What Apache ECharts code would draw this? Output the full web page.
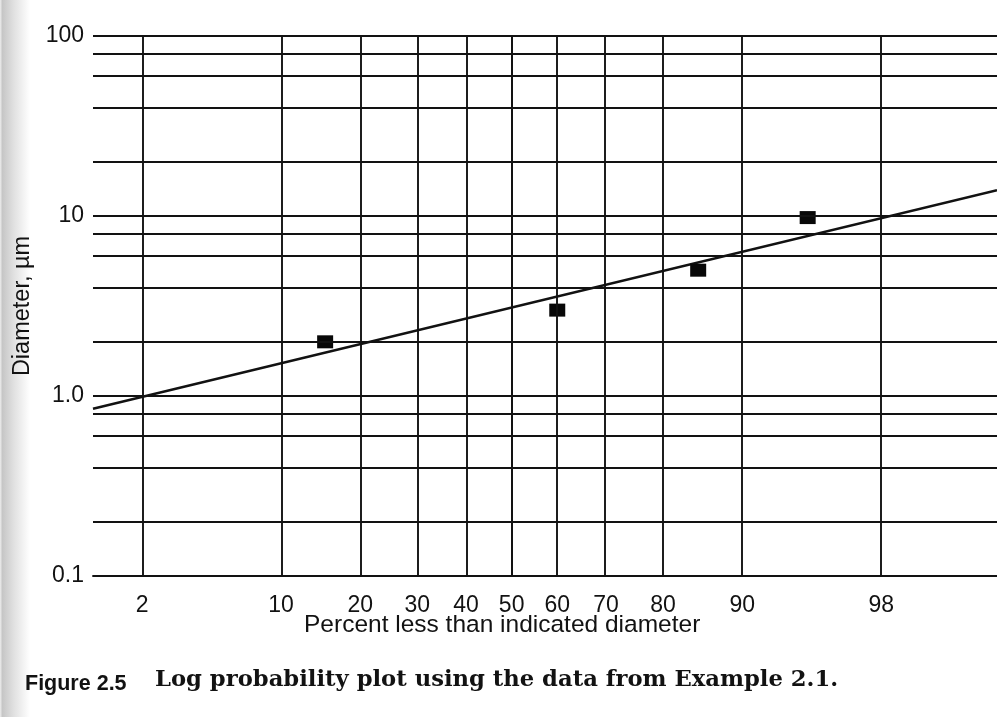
<!DOCTYPE html>
<html>
<head>
<meta charset="utf-8">
<script src="https://cdn.jsdelivr.net/npm/echarts@6/dist/echarts.min.js"></script>
<style>
html,body{margin:0;padding:0;background:#ffffff;}
#chart{width:997px;height:717px;}
</style>
</head>
<body>
<div id="chart"></div>
<script>
// ---- data ----
const xTickPercents = [2, 10, 20, 30, 40, 50, 60, 70, 80, 90, 98];
const xTickLabels = ['2', '10', '20', '30', '40', '50', '60', '70', '80', '90', '98'];
const yMajorTicks = [0.1, 1, 10, 100];
const yTickLabels = ['0.1', '1.0', '10', '100'];
const yMinorLines = [0.2, 0.4, 0.6, 0.8, 2, 4, 6, 8, 20, 40, 60, 80];
const pointPercent = [15, 60, 85, 95];
const pointDiameter = [2.0, 3.0, 5.0, 9.8];
const fitPercent = [1, 99.65];
const fitDiameter = [0.85, 13.9];
const xRangePercent = [1, 99.65];

// probability (normal-probit) scale transform
function probit(pct) {
  const p = pct / 100;
  const a=[-3.969683028665376e+01,2.209460984245205e+02,-2.759285104469687e+02,1.383577518672690e+02,-3.066479806614716e+01,2.506628277459239e+00];
  const b=[-5.447609879822406e+01,1.615858368580409e+02,-1.556989798598866e+02,6.680131188771972e+01,-1.328068155288572e+01];
  const c=[-7.784894002430293e-03,-3.223964580411365e-01,-2.400758277161838e+00,-2.549732539343734e+00,4.374664141464968e+00,2.938163982698783e+00];
  const d=[7.784695709041462e-03,3.224671290700398e-01,2.445134137142996e+00,3.754408661907416e+00];
  const pl = 0.02425, ph = 1 - pl;
  if (p < pl) { const q = Math.sqrt(-2*Math.log(p)); return (((((c[0]*q+c[1])*q+c[2])*q+c[3])*q+c[4])*q+c[5])/((((d[0]*q+d[1])*q+d[2])*q+d[3])*q+1); }
  if (p <= ph) { const q = p-0.5, r = q*q; return (((((a[0]*r+a[1])*r+a[2])*r+a[3])*r+a[4])*r+a[5])*q/(((((b[0]*r+b[1])*r+b[2])*r+b[3])*r+b[4])*r+1); }
  const q = Math.sqrt(-2*Math.log(1-p)); return -(((((c[0]*q+c[1])*q+c[2])*q+c[3])*q+c[4])*q+c[5])/((((d[0]*q+d[1])*q+d[2])*q+d[3])*q+1);
}

const xTickZ = xTickPercents.map(probit);
const INK = '#121212';
const SANS = '"Liberation Sans", Arial, sans-serif';

const gridLines = [];
xTickZ.forEach(z => gridLines.push({ xAxis: z }));
yMinorLines.concat(yMajorTicks).forEach(v => gridLines.push({ yAxis: v }));

const chart = echarts.init(document.getElementById('chart'), null, { renderer: 'canvas' });
chart.setOption({
  animation: false,
  backgroundColor: '#ffffff',
  graphic: [{
    type: 'rect', z: -10, silent: true,
    shape: { x: 0, y: 0, width: 30, height: 717 },
    style: {
      fill: new echarts.graphic.LinearGradient(0, 0, 1, 0, [
        { offset: 0, color: '#eeeeee' },
        { offset: 0.08, color: '#c6c6c6' },
        { offset: 0.45, color: '#e0e0e0' },
        { offset: 1, color: '#ffffff' }
      ])
    }
  }],
  title: [
    { text: 'Percent less than indicated diameter', left: 304, top: 613, padding: 0,
      textStyle: { fontFamily: SANS, fontSize: 24.5, fontWeight: 'normal', color: INK } },
    { text: 'Figure 2.5', left: 25, top: 673, padding: 0,
      textStyle: { fontFamily: SANS, fontSize: 21.5, fontWeight: 'bold', color: INK } },
    { text: 'Log probability plot using the data from Example 2.1.', left: 155, top: 669, padding: 0,
      textStyle: { fontFamily: '"DejaVu Serif", serif', fontSize: 22.7, fontWeight: 'bold', color: INK } }
  ],
  grid: { left: 93, top: 36, right: 0, bottom: 141, containLabel: false },
  xAxis: {
    type: 'value',
    min: probit(xRangePercent[0]),
    max: probit(xRangePercent[1]),
    axisLine: { show: true, lineStyle: { color: INK, width: 1.9 } },
    axisTick: { show: false },
    splitLine: { show: false },
    axisLabel: {
      customValues: xTickZ,
      margin: 18,
      fontFamily: SANS, fontSize: 23, color: INK,
      formatter: function (v) {
        for (let i = 0; i < xTickZ.length; i++) if (Math.abs(xTickZ[i] - v) < 1e-6) return xTickLabels[i];
        return '';
      }
    }
  },
  yAxis: {
    type: 'log',
    logBase: 10,
    min: 0.1,
    max: 100,
    splitNumber: 3,
    name: 'Diameter, µm',
    nameLocation: 'middle',
    nameRotate: 90,
    nameGap: 53,
    nameTextStyle: { fontFamily: SANS, fontSize: 23.5, color: INK },
    axisLine: { show: true, lineStyle: { color: INK, width: 1.9 } },
    axisTick: { show: false },
    splitLine: { show: false },
    axisLabel: {
      margin: 9,
      fontFamily: SANS, fontSize: 23, color: INK,
      formatter: function (v) {
        for (let i = 0; i < yMajorTicks.length; i++) if (Math.abs(Math.log10(v) - Math.log10(yMajorTicks[i])) < 1e-6) return yTickLabels[i];
        return '';
      }
    }
  },
  series: [
    {
      type: 'line',
      data: fitPercent.map((p, i) => [probit(p), fitDiameter[i]]),
      showSymbol: false,
      symbol: 'none',
      lineStyle: { color: INK, width: 2.5 },
      z: 3,
      markLine: {
        silent: true,
        symbol: 'none',
        label: { show: false },
        lineStyle: { color: INK, width: 1.9, type: 'solid' },
        data: gridLines
      }
    },
    {
      type: 'scatter',
      data: pointPercent.map((p, i) => [probit(p), pointDiameter[i]]),
      symbol: 'rect',
      symbolSize: [16, 13],
      itemStyle: { color: '#080808', opacity: 1 },
      z: 4
    }
  ]
});
</script>
</body>
</html>
